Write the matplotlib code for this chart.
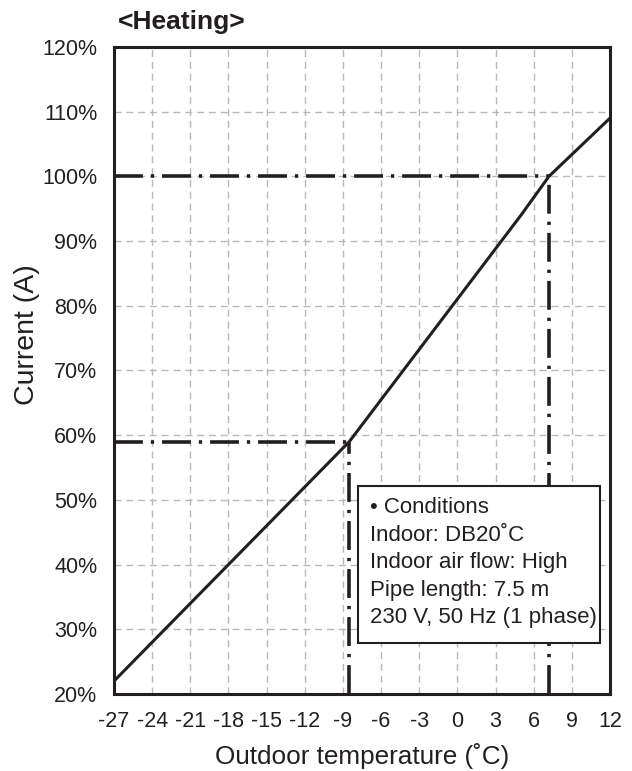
import matplotlib.pyplot as plt

plt.rcParams['font.family'] = ['Liberation Sans', 'DejaVu Sans']

# heating current vs outdoor temperature
temp = [-27, -8.5, 5, 7.2, 12]
current = [22, 59, 94, 100, 109]

# reference points marked with dash-dot lines
ref_temp = [-8.5, 7.2]
ref_current = [59, 100]

x_ticks = list(range(-27, 13, 3))
y_ticks = list(range(20, 121, 10))

conditions = ["\u2022 Conditions", "Indoor: DB20\u02daC", "Indoor air flow: High",
              "Pipe length: 7.5 m", "230 V, 50 Hz (1 phase)"]

fig = plt.figure(figsize=(6.32, 7.71), dpi=100)
ax = fig.add_axes([0.1804, 0.0999, 0.7848, 0.8392])

ax.set_xlim(-27, 12)
ax.set_ylim(20, 120)
ax.set_xticks(x_ticks)
ax.set_yticks(y_ticks)
ax.set_xticklabels([str(t) for t in x_ticks])
ax.set_yticklabels([f"{t}%" for t in y_ticks])
ax.tick_params(length=0, labelsize=15.5, colors='#231f20')
ax.tick_params(axis='y', pad=12)
ax.tick_params(axis='x', pad=12)
ax.grid(True, color='#b8b8bc', linestyle=(0, (5, 3.5)), linewidth=1)
ax.set_axisbelow(True)
for s in ax.spines.values():
    s.set_linewidth(2.2)
    s.set_color('#231f20')

dd = (0, (8, 2.2, 0.9, 2.2))
for t, c in zip(ref_temp, ref_current):
    ax.plot([-27, t], [c, c], color='#231f20', lw=2.6, linestyle=dd, zorder=3)
    ax.plot([t, t], [20, c], color='#231f20', lw=2.6, linestyle=dd, zorder=3)

ax.plot(temp, current, color='#231f20', lw=2.2, zorder=4)

box = plt.Rectangle((0.492, 0.079), 0.488, 0.242, transform=ax.transAxes,
                    facecolor='white', edgecolor='#231f20', lw=1.5, zorder=5)
ax.add_patch(box)
for i, line in enumerate(conditions):
    ax.text(0.517, 0.288 - i * 0.0425, line, transform=ax.transAxes,
            fontsize=16, color='#231f20', va='center', ha='left', zorder=6)

ax.set_xlabel("Outdoor temperature (\u02daC)", fontsize=18.8, color='#231f20', labelpad=8)
ax.set_ylabel("Current (A)", fontsize=20.5, color='#231f20')
ax.yaxis.set_label_coords(-0.149, 0.556)
fig.text(0.187, 0.972, "<Heating>", fontsize=19, fontweight='bold', color='#231f20',
         va='center', ha='left')

fig.savefig("out.png", dpi=100)
